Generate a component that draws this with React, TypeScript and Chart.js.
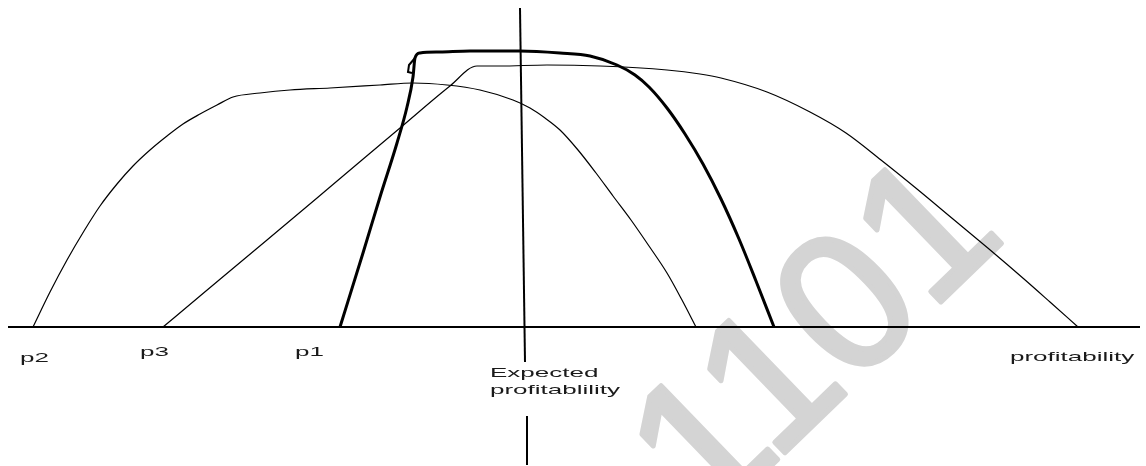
import React, { useEffect, useRef } from "react";
import { Chart, registerables } from "chart.js";

Chart.register(...registerables);

// Profitability (horizontal units) and relative frequency (height above the axis)
const p2X = [33, 50, 67, 84, 100, 117, 133, 150, 167, 183, 200, 217, 233, 260, 290, 330, 380, 413, 447, 480, 513, 530, 545, 560, 578, 596, 613, 631, 649, 667, 682, 696];
const p2Y = [0, 35, 67, 96, 121, 143, 161, 177, 191, 203, 213, 222, 230, 234, 237, 239, 242, 244, 242, 237, 227, 219, 209, 197, 177, 154, 131, 107, 81, 54, 27, 0];

const p3X = [163, 200, 267, 330, 400, 450, 477, 500, 547, 600, 667, 700, 721, 767, 810, 846, 881, 917, 953, 989, 1024, 1050, 1078];
const p3Y = [0, 31, 87, 140, 199, 241, 261, 261, 262, 261, 257, 253, 249, 235, 215, 194, 167, 138, 108, 78, 48, 25, 0];

const p1X = [340, 363, 380, 397, 407, 413, 415, 420, 440, 470, 520, 560, 590, 617, 635, 649, 667, 685, 703, 721, 739, 756, 774];
const p1Y = [0, 74, 130, 184, 220, 250, 269, 274, 275, 276, 276, 274, 271, 262, 252, 240, 219, 193, 163, 128, 88, 46, 0];

const knotX = [415, 409, 408, 412];
const knotY = [269, 262, 255, 254];

const axisX = [8, 1140];
const axisY = [0, 0];

const expectedUpperX = [520, 525];
const expectedUpperY = [319, -35];
const expectedLowerX = [527, 527];
const expectedLowerY = [-89, -138];

const labelTexts = ["p2", "p3", "p1", "Expected", "profitablility", "profitability"];
const labelX = [20, 140, 295, 490, 490, 1010];
const labelY = [-35, -29, -29, -50, -67, -34];

const watermarkText = "1101";
const watermarkX = 820;
const watermarkY = -17;

const X_MIN = 0;
const X_MAX = 1146;
const Y_MIN = -139;
const Y_MAX = 327;

const pts = (xs: number[], ys: number[]) => xs.map((x, i) => ({ x, y: ys[i] }));

export default function App() {
  const ref = useRef<HTMLCanvasElement | null>(null);

  useEffect(() => {
    if (!ref.current) return;
    const line = (data: any, width: number, smooth: boolean) => ({
      data,
      showLine: true,
      borderColor: "#000",
      backgroundColor: "#000",
      borderWidth: width,
      pointRadius: 0,
      pointHoverRadius: 0,
      tension: smooth ? 0.4 : 0,
      cubicInterpolationMode: smooth ? ("monotone" as const) : ("default" as const),
      fill: false,
      clip: false as any,
    });

    const watermarkPlugin = {
      id: "watermark",
      beforeDatasetsDraw(chart: any) {
        const { ctx, scales } = chart;
        const px = scales.x.getPixelForValue(watermarkX);
        const py = scales.y.getPixelForValue(watermarkY);
        ctx.save();
        ctx.translate(px, py);
        ctx.rotate((-44 * Math.PI) / 180);
        ctx.fillStyle = "#d4d4d4";
        ctx.strokeStyle = "#d4d4d4";
        ctx.lineWidth = 5;
        ctx.lineJoin = "round";
        ctx.font = "195px 'Liberation Sans', Arial, sans-serif";
        ctx.textAlign = "center";
        ctx.textBaseline = "middle";
        ctx.fillText(watermarkText, 0, 0);
        ctx.strokeText(watermarkText, 0, 0);
        ctx.restore();
      },
    };

    const labelsPlugin = {
      id: "labels",
      afterDatasetsDraw(chart: any) {
        const { ctx, scales } = chart;
        ctx.save();
        ctx.fillStyle = "#1a1a1a";
        ctx.font = "13px 'Liberation Sans', Arial, sans-serif";
        ctx.textAlign = "left";
        ctx.textBaseline = "alphabetic";
        labelTexts.forEach((t, i) => {
          const px = scales.x.getPixelForValue(labelX[i]);
          const py = scales.y.getPixelForValue(labelY[i]);
          ctx.save();
          ctx.translate(px, py);
          ctx.scale(2.0, 1);
          ctx.fillText(t, 0, 0);
          ctx.restore();
        });
        ctx.restore();
      },
    };

    const chart = new Chart(ref.current, {
      type: "scatter",
      data: {
        datasets: [
          line(pts(axisX, axisY), 2, false),
          line(pts(expectedUpperX, expectedUpperY), 2, false),
          line(pts(expectedLowerX, expectedLowerY), 2, false),
          line(pts(p2X, p2Y), 1.2, true),
          line(pts(p3X, p3Y), 1.2, true),
          line(pts(p1X, p1Y), 3, true),
          line(pts(knotX, knotY), 2, false),
        ],
      },
      options: {
        animation: false,
        responsive: false,
        devicePixelRatio: 1,
        layout: { padding: 0 },
        plugins: {
          legend: { display: false },
          tooltip: { enabled: false },
          title: { display: false },
        },
        scales: {
          x: { type: "linear", display: false, min: X_MIN, max: X_MAX },
          y: { type: "linear", display: false, min: Y_MIN, max: Y_MAX },
        },
      },
      plugins: [watermarkPlugin, labelsPlugin],
    });
    return () => chart.destroy();
  }, []);

  return (
    <div style={{ position: "absolute", left: 0, top: 0, width: 1146, height: 466, background: "#fff" }}>
      <canvas ref={ref} width={1146} height={466} style={{ width: 1146, height: 466, display: "block" }} />
    </div>
  );
}
